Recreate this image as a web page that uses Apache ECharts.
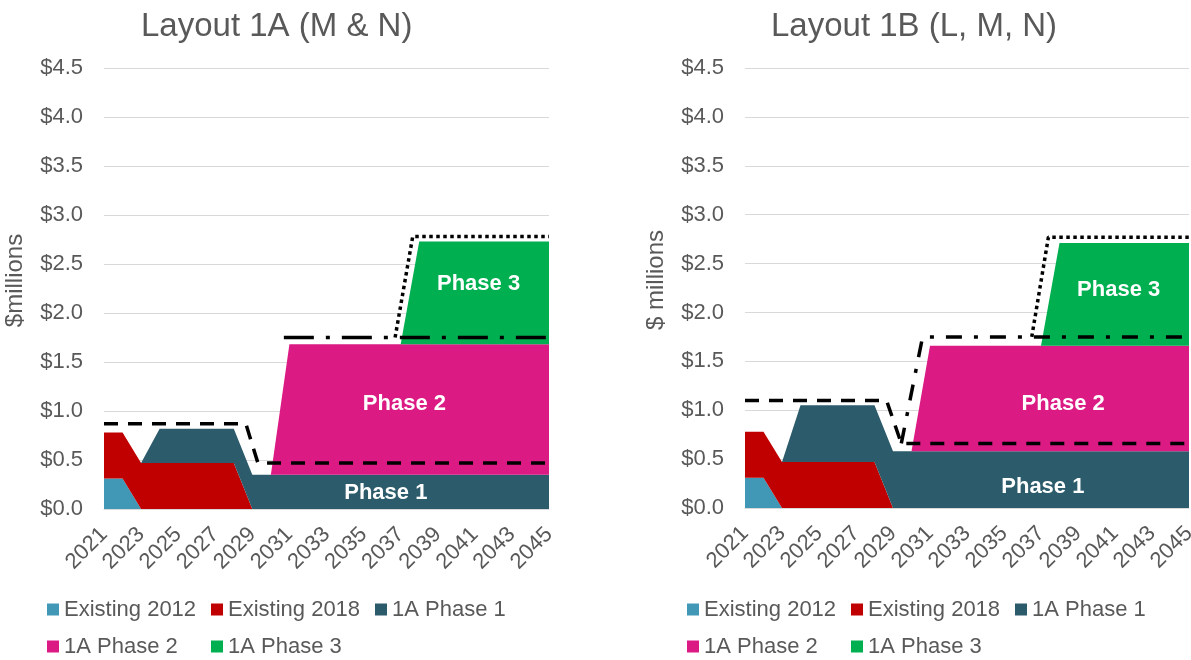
<!DOCTYPE html>
<html>
<head>
<meta charset="utf-8">
<script src="https://cdn.jsdelivr.net/npm/echarts@6/dist/echarts.min.js"></script>
<style>
  html, body { margin: 0; padding: 0; background: #fff; }
  #main { width: 1191px; height: 660px; }
</style>
</head>
<body>
<div id="main"></div>
<script>
// years on the category axis
const years = [];
for (let y = 2021; y <= 2045; y++) years.push(String(y));

const legendNames = ['Existing 2012', 'Existing 2018', '1A Phase 1', '1A Phase 2', '1A Phase 3'];
const areaColors = ['#4198b6', '#c00000', '#2c5b6b', '#db1a84', '#00b050'];
const tickLabels = ['$0.0', '$0.5', '$1.0', '$1.5', '$2.0', '$2.5', '$3.0', '$3.5', '$4.0', '$4.5'];

// Layout 1A (left) — stacked values, $ millions
const a_exist2012 = [0.31, 0.31, 0, 0, 0, 0, 0, 0, 0, 0, 0, 0, 0, 0, 0, 0, 0, 0, 0, 0, 0, 0, 0, 0, 0];
const a_exist2018 = [0.47, 0.47, 0.47, 0.47, 0.47, 0.47, 0.47, 0.47, 0, 0, 0, 0, 0, 0, 0, 0, 0, 0, 0, 0, 0, 0, 0, 0, 0];
const a_phase1 = [0, 0, 0, 0.35, 0.35, 0.35, 0.35, 0.35, 0.35, 0.35, 0.35, 0.35, 0.35, 0.35, 0.35, 0.35, 0.35, 0.35, 0.35, 0.35, 0.35, 0.35, 0.35, 0.35, 0.35];
const a_phase2 = [0, 0, 0, 0, 0, 0, 0, 0, 0, 0, 1.33, 1.33, 1.33, 1.33, 1.33, 1.33, 1.33, 1.33, 1.33, 1.33, 1.33, 1.33, 1.33, 1.33, 1.33];
const a_phase3 = [0, 0, 0, 0, 0, 0, 0, 0, 0, 0, 0, 0, 0, 0, 0, 0, 0, 1.05, 1.05, 1.05, 1.05, 1.05, 1.05, 1.05, 1.05];
// overlay lines [year, value]
const a_dashed = [[2021, 0.87], [2028.65, 0.87], [2029.3, 0.47], [2045, 0.47]];
const a_dashDot = [[2030.7, 1.75], [2045, 1.75]];
const a_dotted = [[2036.7, 1.75], [2037.65, 2.78], [2045, 2.78]];
const a_labels = [[2036.2, 0.16, 'Phase 1'], [2037.2, 1.07, 'Phase 2'], [2041.2, 2.3, 'Phase 3']];

// Layout 1B (right)
const b_exist2012 = [0.31, 0.31, 0, 0, 0, 0, 0, 0, 0, 0, 0, 0, 0, 0, 0, 0, 0, 0, 0, 0, 0, 0, 0, 0, 0];
const b_exist2018 = [0.47, 0.47, 0.47, 0.47, 0.47, 0.47, 0.47, 0.47, 0, 0, 0, 0, 0, 0, 0, 0, 0, 0, 0, 0, 0, 0, 0, 0, 0];
const b_phase1 = [0, 0, 0, 0.58, 0.58, 0.58, 0.58, 0.58, 0.58, 0.58, 0.58, 0.58, 0.58, 0.58, 0.58, 0.58, 0.58, 0.58, 0.58, 0.58, 0.58, 0.58, 0.58, 0.58, 0.58];
const b_phase2 = [0, 0, 0, 0, 0, 0, 0, 0, 0, 0, 1.08, 1.08, 1.08, 1.08, 1.08, 1.08, 1.08, 1.08, 1.08, 1.08, 1.08, 1.08, 1.08, 1.08, 1.08];
const b_phase3 = [0, 0, 0, 0, 0, 0, 0, 0, 0, 0, 0, 0, 0, 0, 0, 0, 0, 1.05, 1.05, 1.05, 1.05, 1.05, 1.05, 1.05, 1.05];
const b_dashed = [[2021, 1.1], [2028.65, 1.1], [2029.45, 0.66], [2045, 0.66]];
const b_dashDot = [[2029.45, 0.66], [2030.6, 1.75], [2045, 1.75]];
const b_dotted = [[2036.5, 1.75], [2037.4, 2.77], [2045, 2.77]];
const b_labels = [[2037.1, 0.22, 'Phase 1'], [2038.2, 1.06, 'Phase 2'], [2041.2, 2.23, 'Phase 3']];

const FONT = 'Liberation Sans, Arial, sans-serif';
const GREY = '#595959';

let chart = echarts.init(document.getElementById('main'));

let makeAreas = function (data, stack, xIdx, yIdx) {
    return data.map((d, i) => ({
        name: legendNames[i],
        type: 'line',
        stack: stack,
        xAxisIndex: xIdx,
        yAxisIndex: yIdx,
        data: d,
        symbol: 'none',
        lineStyle: { width: 0 },
        areaStyle: { color: areaColors[i], opacity: 1 },
        itemStyle: { color: areaColors[i] },
        z: 2
    }));
};

let makeLine = function (data, type, xIdx, yIdx, labels) {
    let s = {
        type: 'line',
        xAxisIndex: xIdx,
        yAxisIndex: yIdx,
        data: data,
        symbol: 'none',
        lineStyle: { color: '#000', width: 3.5, type: type, cap: 'butt' },
        z: 5
    };
    if (labels) {
        s.markPoint = {
            symbol: 'rect',
            symbolSize: 1,
            itemStyle: { color: 'rgba(0,0,0,0)' },
            label: {
                show: true, position: 'inside', color: '#fff',
                fontWeight: 'bold', fontSize: 22, fontFamily: FONT,
                formatter: p => p.name
            },
            data: labels.map(l => ({ name: l[2], coord: [l[0], l[1]] }))
        };
    }
    return s;
};

let catAxis = function (grid) {
    return {
        type: 'category', gridIndex: grid, data: years, boundaryGap: false,
        axisLine: { lineStyle: { color: '#d9d9d9' } },
        axisTick: { show: false },
        axisLabel: { interval: 1, rotate: 45, color: GREY, fontSize: 22, fontFamily: FONT, margin: 22 }
    };
};
let valXAxis = function (grid) {
    return { type: 'value', gridIndex: grid, min: 2021, max: 2045, show: false };
};
let yAxis = function (grid, name) {
    return {
        type: 'value', gridIndex: grid, min: 0, max: 4.5, interval: 0.5,
        name: name, nameLocation: 'middle', nameGap: 77,
        nameTextStyle: { color: GREY, fontSize: 24, fontFamily: FONT, padding: [0, 0, 0, 16] },
        axisLine: { show: false }, axisTick: { show: false },
        splitLine: { lineStyle: { color: '#d9d9d9', width: 1 } },
        axisLabel: {
            color: GREY, fontSize: 22, fontFamily: FONT, margin: 21,
            formatter: v => tickLabels[Math.round(v * 2)]
        }
    };
};
let legend = function (left) {
    return {
        data: legendNames, left: left, top: 591, width: 500, padding: 0,
        orient: 'horizontal', itemGap: 0, itemWidth: 12, itemHeight: 12,
        icon: 'rect',
        textStyle: { color: GREY, fontSize: 22, fontFamily: FONT, width: 147, lineHeight: 37 }
    };
};

let option = {
    animation: false,
    title: [
        { text: 'Layout 1A (M & N)', left: 136, top: 5, textStyle: { color: GREY, fontSize: 33, fontWeight: 'normal', fontFamily: FONT } },
        { text: 'Layout 1B (L, M, N)', left: 766, top: 5, textStyle: { color: GREY, fontSize: 33, fontWeight: 'normal', fontFamily: FONT } }
    ],
    legend: [legend(47), legend(687)],
    grid: [
        { left: 104, top: 68, width: 445, height: 441, outerBoundsMode: 'none' },
        { left: 745, top: 68, width: 444, height: 440, outerBoundsMode: 'none' }
    ],
    xAxis: [catAxis(0), valXAxis(0), catAxis(1), valXAxis(1)],
    yAxis: [yAxis(0, '$millions'), yAxis(1, '$ millions')],
    series: [].concat(
        makeAreas([a_exist2012, a_exist2018, a_phase1, a_phase2, a_phase3], 'A', 0, 0),
        [
            makeLine(a_dashed, [14, 10], 1, 0, a_labels),
            makeLine(a_dashDot, [30, 12, 4, 12], 1, 0),
            makeLine(a_dotted, [3.5, 3.5], 1, 0)
        ],
        makeAreas([b_exist2012, b_exist2018, b_phase1, b_phase2, b_phase3], 'B', 2, 1),
        [
            makeLine(b_dashed, [14, 10], 3, 1, b_labels),
            makeLine(b_dashDot, [16, 12, 4, 12], 3, 1),
            makeLine(b_dotted, [3.5, 3.5], 3, 1)
        ]
    )
};

chart.setOption(option);
</script>
</body>
</html>
